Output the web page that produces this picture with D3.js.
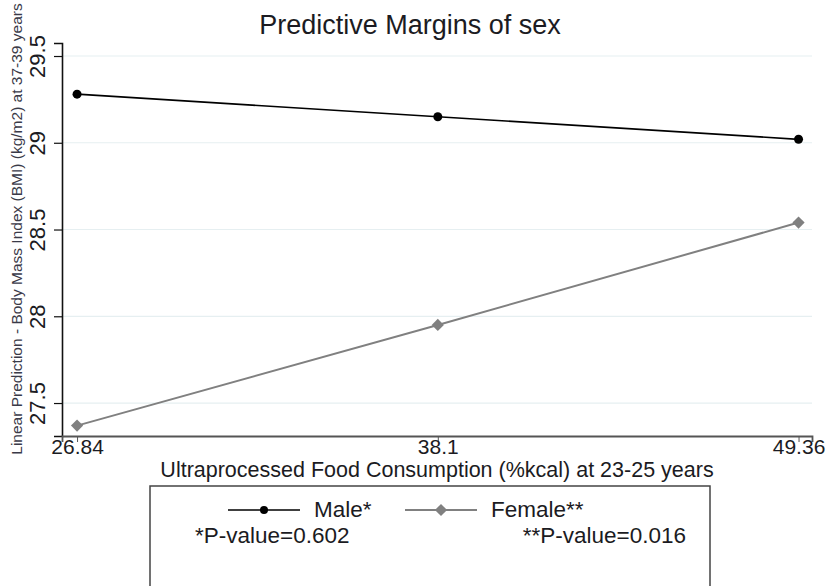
<!DOCTYPE html>
<html>
<head>
<meta charset="utf-8">
<script src="https://cdn.jsdelivr.net/npm/d3@7"></script>
<style>
  body { margin: 0; background: #fff; }
  svg { display: block; font-family: "Liberation Sans", Arial, sans-serif; }
</style>
</head>
<body>
<svg></svg>
<script>
// Chart data
const xTicks = [26.84, 38.1, 49.36];
const yTicks = [27.5, 28, 28.5, 29, 29.5];
const maleValues = [29.28, 29.15, 29.02];
const femaleValues = [27.37, 27.95, 28.54];
const seriesNames = ["Male*", "Female**"];
const pValues = ["*P-value=0.602", "**P-value=0.016"];

const width = 828;
const height = 586;
const textColor = "#1b1b22";

const svg = d3.select("svg")
    .attr("width", width)
    .attr("height", height);

// Scales
const x = d3.scaleLinear()
    .domain([26.37, 49.78])
    .range([62, 812]);

const y = d3.scaleLinear()
    .domain([27.31, 29.575])
    .range([436, 43]);

// Gridlines
svg.append("g")
    .selectAll("line")
    .data(yTicks)
    .enter()
    .append("line")
    .attr("x1", x.range()[0])
    .attr("x2", x.range()[1])
    .attr("y1", d => y(d))
    .attr("y2", d => y(d))
    .style("stroke", "#e6eff1")
    .style("stroke-width", 1.2);

// Y axis
const yAxis = svg.append("g")
    .attr("transform", `translate(${x.range()[0]},0)`)
    .call(d3.axisLeft(y).tickValues(yTicks).tickSize(8).tickFormat(d3.format("")));
yAxis.select(".domain").style("stroke", "#111").style("stroke-width", 1.6);
yAxis.selectAll(".tick line").style("stroke", "#111").style("stroke-width", 1.2);
yAxis.selectAll(".tick text")
    .attr("x", 0)
    .attr("y", 0)
    .attr("dy", 0)
    .attr("transform", "translate(-17,0) rotate(-90)")
    .attr("text-anchor", "middle")
    .style("font-size", "22px")
    .style("fill", textColor);

// X axis
const xAxis = svg.append("g")
    .attr("transform", `translate(0,${y.range()[0]})`)
    .call(d3.axisBottom(x).tickValues(xTicks).tickSize(6).tickFormat(d => d));
xAxis.select(".domain").style("stroke", "#555").style("stroke-width", 1.8);
xAxis.selectAll(".tick line").style("stroke", "#555").style("stroke-width", 1);
xAxis.selectAll(".tick text")
    .attr("y", 18)
    .attr("dy", 0)
    .style("font-size", "21px")
    .style("fill", textColor);

// Lines
const line = d3.line()
    .x((d, i) => x(xTicks[i]))
    .y(d => y(d));

svg.append("path")
    .datum(femaleValues)
    .attr("d", line)
    .style("fill", "none")
    .style("stroke", "#808080")
    .style("stroke-width", 2);

svg.append("path")
    .datum(maleValues)
    .attr("d", line)
    .style("fill", "none")
    .style("stroke", "#000")
    .style("stroke-width", 1.7);

const diamond = d3.symbol().type(d3.symbolDiamond2).size(95);

svg.append("g")
    .selectAll("path")
    .data(femaleValues)
    .enter()
    .append("path")
    .attr("d", diamond)
    .attr("transform", (d, i) => `translate(${x(xTicks[i])},${y(d)})`)
    .style("fill", "#808080");

svg.append("g")
    .selectAll("circle")
    .data(maleValues)
    .enter()
    .append("circle")
    .attr("cx", (d, i) => x(xTicks[i]))
    .attr("cy", d => y(d))
    .attr("r", 4.5)
    .style("fill", "#000");

// Title
svg.append("text")
    .attr("x", 410)
    .attr("y", 34)
    .attr("text-anchor", "middle")
    .style("font-size", "27px")
    .style("fill", textColor)
    .text("Predictive Margins of sex");

// Axis titles
svg.append("text")
    .attr("x", (x.range()[0] + x.range()[1]) / 2)
    .attr("y", 477)
    .attr("text-anchor", "middle")
    .style("font-size", "21.5px")
    .style("fill", textColor)
    .text("Ultraprocessed Food Consumption (%kcal) at 23-25 years");

svg.append("text")
    .attr("transform", "translate(22,229) rotate(-90)")
    .attr("text-anchor", "middle")
    .style("font-size", "15.5px")
    .style("fill", "#3a3a48")
    .text("Linear Prediction - Body Mass Index (BMI) (kg/m2) at 37-39 years");

// Legend
const legend = svg.append("g");
legend.append("rect")
    .attr("x", 150)
    .attr("y", 486)
    .attr("width", 560)
    .attr("height", 120)
    .style("fill", "#fff")
    .style("stroke", "#444")
    .style("stroke-width", 1.5);

const legendItems = [
    { name: seriesNames[0], color: "#000", x0: 228, width: 1.7, marker: "circle" },
    { name: seriesNames[1], color: "#808080", x0: 405, width: 2, marker: "diamond" }
];

legendItems.forEach(item => {
    legend.append("line")
        .attr("x1", item.x0)
        .attr("x2", item.x0 + 72)
        .attr("y1", 510)
        .attr("y2", 510)
        .style("stroke", item.color)
        .style("stroke-width", item.width);
    if (item.marker === "circle") {
        legend.append("circle")
            .attr("cx", item.x0 + 36)
            .attr("cy", 510)
            .attr("r", 4)
            .style("fill", item.color);
    } else {
        legend.append("path")
            .attr("d", diamond)
            .attr("transform", `translate(${item.x0 + 36},510)`)
            .style("fill", item.color);
    }
    legend.append("text")
        .attr("x", item.x0 + 86)
        .attr("y", 517)
        .style("font-size", "22.5px")
        .style("fill", textColor)
        .text(item.name);
});

legend.append("text")
    .attr("x", 195)
    .attr("y", 543)
    .style("font-size", "22.5px")
    .style("fill", textColor)
    .text(pValues[0]);

legend.append("text")
    .attr("x", 686)
    .attr("y", 543)
    .attr("text-anchor", "end")
    .style("font-size", "22.5px")
    .style("fill", textColor)
    .text(pValues[1]);
</script>
</body>
</html>
